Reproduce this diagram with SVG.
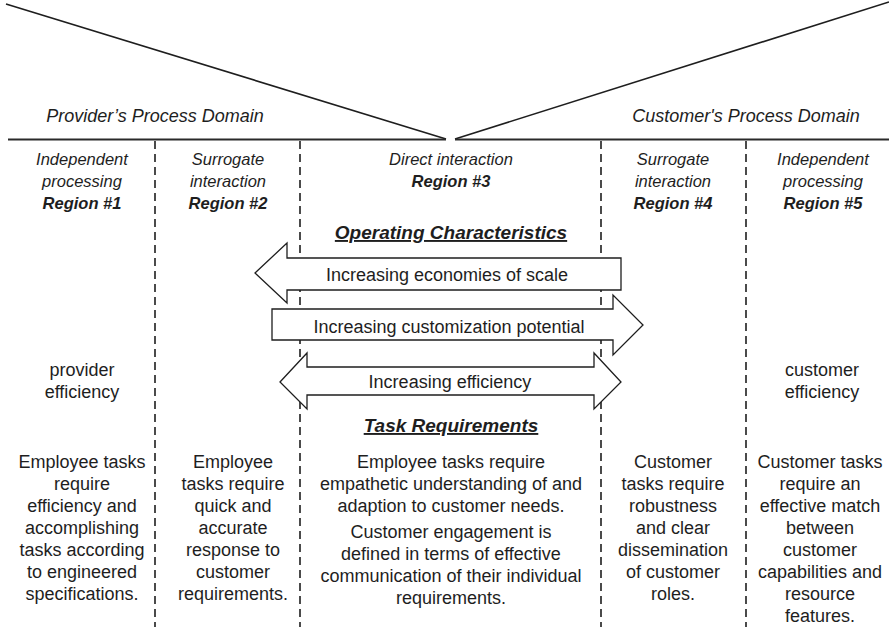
<svg xmlns="http://www.w3.org/2000/svg" width="889" height="627" viewBox="0 0 889 627">
  <style>
    text { font-family: "Liberation Sans", Arial, sans-serif; fill: #1e1e1e; text-anchor: middle; }
    .dom { font-size: 18px; font-style: italic; }
    .hd { font-size: 16.5px; font-style: italic; }
    .rg { font-size: 16.5px; font-style: italic; font-weight: bold; }
    .ttl { font-size: 19px; font-style: italic; font-weight: bold; text-decoration: underline; }
    .bd { font-size: 18px; }
    .rule { stroke: #2a2a2a; stroke-width: 2; fill: none; }
    .diag { stroke: #1e1e1e; stroke-width: 1.6; fill: none; }
    .dash { stroke: #1e1e1e; stroke-width: 1.6; stroke-dasharray: 8 5; fill: none; }
    .arr { fill: #ffffff; stroke: #1e1e1e; stroke-width: 1.3; stroke-linejoin: miter; }
  </style>

  <rect width="889" height="627" fill="#ffffff"/>

  <!-- funnel lines and domain boundary -->
  <g id="boundary">
    <line class="diag" x1="6" y1="4" x2="446" y2="139"/>
    <line class="diag" x1="455" y1="139" x2="889" y2="2"/>
    <line class="rule" x1="8" y1="139.5" x2="446" y2="139.5"/>
    <line class="rule" x1="455" y1="139.5" x2="889" y2="139.5"/>
  </g>

  <!-- region separators -->
  <g id="separators">
    <line class="dash" x1="155" y1="141" x2="155" y2="627"/>
    <line class="dash" x1="300" y1="141" x2="300" y2="627"/>
    <line class="dash" x1="601" y1="141" x2="601" y2="627"/>
    <line class="dash" x1="746" y1="141" x2="746" y2="627"/>
  </g>

  <g id="domains">
    <text class="dom" x="155" y="122">Provider’s Process Domain</text>
    <text class="dom" x="746" y="122">Customer's Process Domain</text>
  </g>

  <g id="region1">
    <text class="hd" x="82" y="165">Independent</text>
    <text class="hd" x="82" y="187">processing</text>
    <text class="rg" x="82" y="209">Region #1</text>
  </g>
  <g id="region2">
    <text class="hd" x="228" y="165">Surrogate</text>
    <text class="hd" x="228" y="187">interaction</text>
    <text class="rg" x="228" y="209">Region #2</text>
  </g>
  <g id="region3">
    <text class="hd" x="451" y="165">Direct interaction</text>
    <text class="rg" x="451" y="187">Region #3</text>
  </g>
  <g id="region4">
    <text class="hd" x="673" y="165">Surrogate</text>
    <text class="hd" x="673" y="187">interaction</text>
    <text class="rg" x="673" y="209">Region #4</text>
  </g>
  <g id="region5">
    <text class="hd" x="823" y="165">Independent</text>
    <text class="hd" x="823" y="187">processing</text>
    <text class="rg" x="823" y="209">Region #5</text>
  </g>

  <g id="operating-title">
    <text class="ttl" x="451" y="239">Operating Characteristics</text>
  </g>

  <!-- block arrows -->
  <g id="arrow-scale">
    <polygon class="arr" points="255,273 287,243 287,258 621,258 621,290 287,290 287,303"/>
    <text class="bd" x="447" y="281">Increasing economies of scale</text>
  </g>
  <g id="arrow-customization">
    <polygon class="arr" points="272,309 613,309 613,295 643,325 613,355 613,340 272,340"/>
    <text class="bd" x="449" y="333">Increasing customization potential</text>
  </g>
  <g id="arrow-efficiency">
    <polygon class="arr" points="280,382 307,353 307,367 594,367 594,353 621,382 594,409 594,395 307,395 307,409"/>
    <text class="bd" x="450" y="388">Increasing efficiency</text>
  </g>

  <g id="provider-efficiency">
    <text class="bd" x="82" y="376">provider</text>
    <text class="bd" x="82" y="398">efficiency</text>
  </g>
  <g id="customer-efficiency">
    <text class="bd" x="822" y="376">customer</text>
    <text class="bd" x="822" y="398">efficiency</text>
  </g>

  <g id="task-title">
    <text class="ttl" x="451" y="432">Task Requirements</text>
  </g>

  <g id="tasks1">
    <text class="bd" x="82" y="468">Employee tasks</text>
    <text class="bd" x="82" y="490">require</text>
    <text class="bd" x="82" y="512">efficiency and</text>
    <text class="bd" x="82" y="534">accomplishing</text>
    <text class="bd" x="82" y="556">tasks according</text>
    <text class="bd" x="82" y="578">to engineered</text>
    <text class="bd" x="82" y="600">specifications.</text>
  </g>
  <g id="tasks2">
    <text class="bd" x="233" y="468">Employee</text>
    <text class="bd" x="233" y="490">tasks require</text>
    <text class="bd" x="233" y="512">quick and</text>
    <text class="bd" x="233" y="534">accurate</text>
    <text class="bd" x="233" y="556">response to</text>
    <text class="bd" x="233" y="578">customer</text>
    <text class="bd" x="233" y="600">requirements.</text>
  </g>
  <g id="tasks3">
    <text class="bd" x="451" y="468">Employee tasks require</text>
    <text class="bd" x="451" y="490">empathetic understanding of and</text>
    <text class="bd" x="451" y="512">adaption to customer needs.</text>
    <text class="bd" x="451" y="538">Customer engagement is</text>
    <text class="bd" x="451" y="560">defined in terms of effective</text>
    <text class="bd" x="451" y="582">communication of their individual</text>
    <text class="bd" x="451" y="604">requirements.</text>
  </g>
  <g id="tasks4">
    <text class="bd" x="673" y="468">Customer</text>
    <text class="bd" x="673" y="490">tasks require</text>
    <text class="bd" x="673" y="512">robustness</text>
    <text class="bd" x="673" y="534">and clear</text>
    <text class="bd" x="673" y="556">dissemination</text>
    <text class="bd" x="673" y="578">of customer</text>
    <text class="bd" x="673" y="600">roles.</text>
  </g>
  <g id="tasks5">
    <text class="bd" x="820" y="468">Customer tasks</text>
    <text class="bd" x="820" y="490">require an</text>
    <text class="bd" x="820" y="512">effective match</text>
    <text class="bd" x="820" y="534">between</text>
    <text class="bd" x="820" y="556">customer</text>
    <text class="bd" x="820" y="578">capabilities and</text>
    <text class="bd" x="820" y="600">resource</text>
    <text class="bd" x="820" y="622">features.</text>
  </g>
</svg>
